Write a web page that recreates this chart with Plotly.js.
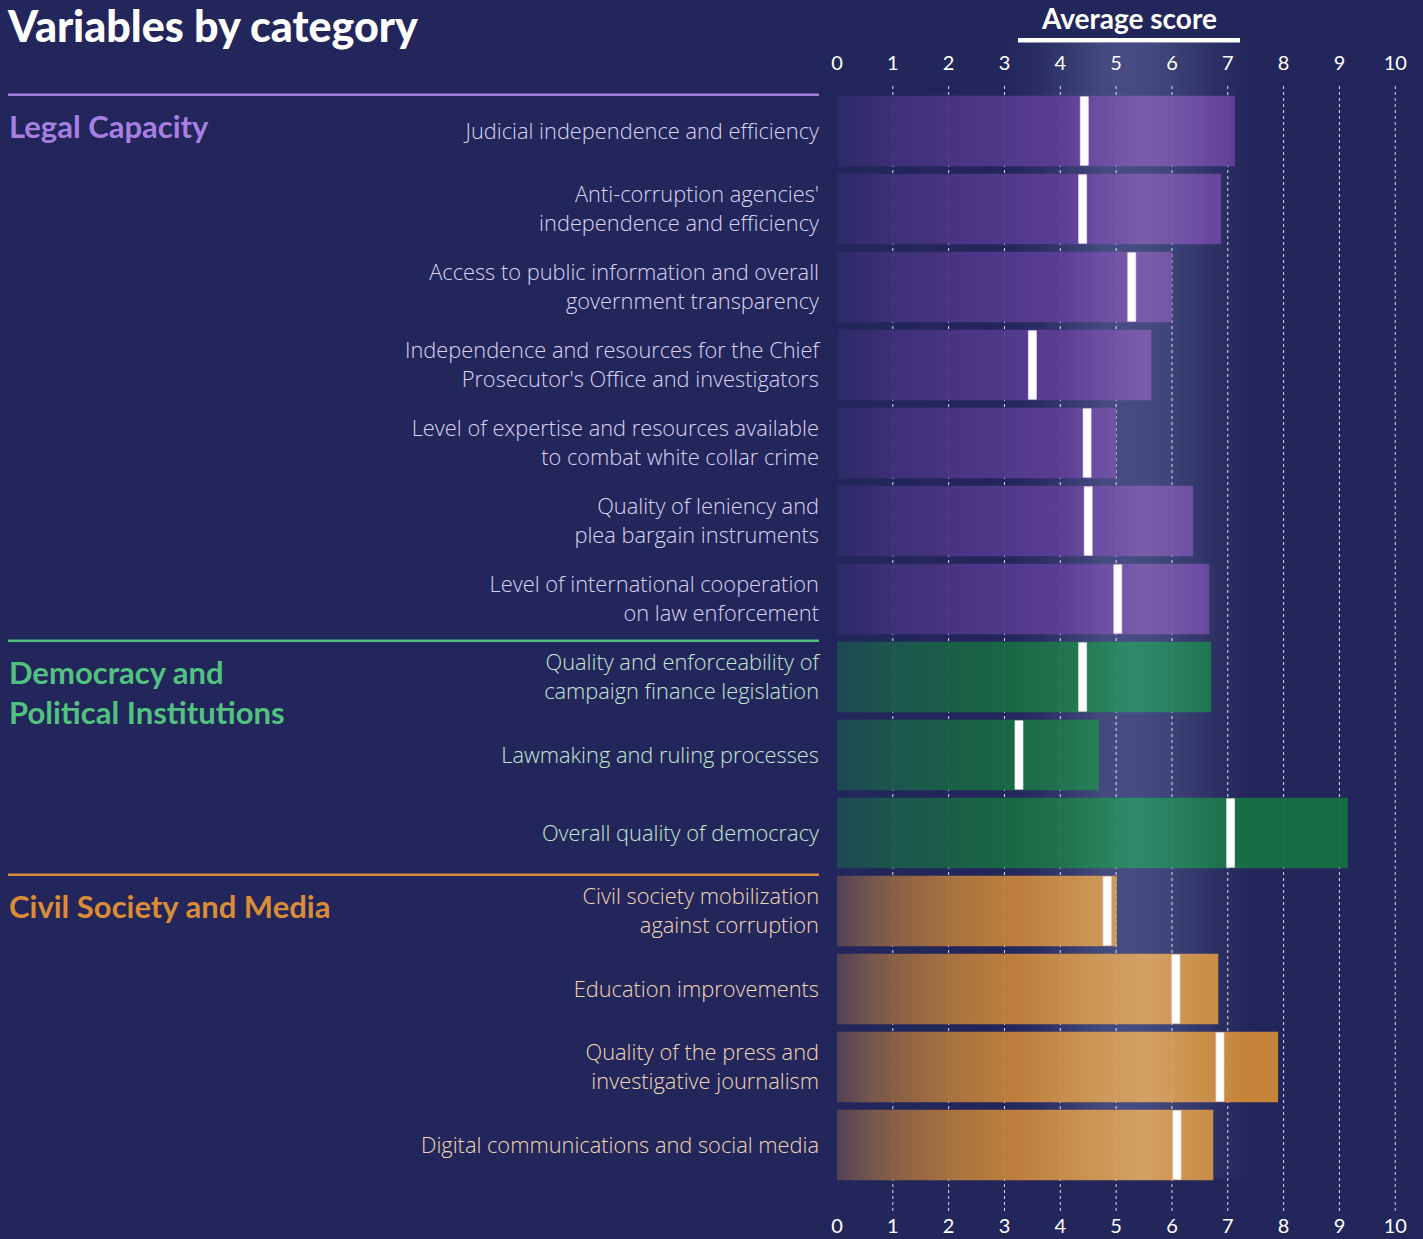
<!DOCTYPE html>
<html><head><meta charset="utf-8">
<script src="https://cdn.plot.ly/plotly-3.0.1.min.js"></script>
<style>html,body{margin:0;padding:0;background:#23265a;}#chart{width:1423px;height:1239px;}</style>
</head><body><div id="chart"></div>
<script>
// ---------------- data ----------------
const variableLines = [
  ["Judicial independence and efficiency"],
  ["Anti-corruption agencies'", "independence and efficiency"],
  ["Access to public information and overall", "government transparency"],
  ["Independence and resources for the Chief", "Prosecutor's Office and investigators"],
  ["Level of expertise and resources available", "to combat white collar crime"],
  ["Quality of leniency and", "plea bargain instruments"],
  ["Level of international cooperation", "on law enforcement"],
  ["Quality and enforceability of", "campaign finance legislation"],
  ["Lawmaking and ruling processes"],
  ["Overall quality of democracy"],
  ["Civil society mobilization", "against corruption"],
  ["Education improvements"],
  ["Quality of the press and", "investigative journalism"],
  ["Digital communications and social media"]
];
const variableGroup = [0,0,0,0,0,0,0, 1,1,1, 2,2,2,2];
const averageScore = [7.13, 6.88, 6.00, 5.63, 5.00, 6.38, 6.67, 6.70, 4.69, 9.15, 5.01, 6.83, 7.90, 6.74];
const markerScore  = [4.43, 4.40, 5.28, 3.50, 4.48, 4.50, 5.03, 4.40, 3.26, 7.05, 4.84, 6.07, 6.86, 6.09];
const groupTitles = ["Legal Capacity", "Democracy and<br>Political Institutions", "Civil Society and Media"];
const xTicks = [0,1,2,3,4,5,6,7,8,9,10];

// ---------------- styles ----------------
const BG = '#23265a';
const groupTitleColor = ['#a77fe2', '#52c280', '#da8c36'];
const groupLabelColor = ['#dcd3f2', '#c4e6d4', '#f2d6b6'];
const groupLineColor  = ['#a47ee0', '#4fbf7a', '#d98c37'];
const groupGradient = [
  [[0,'#2e2a68'],[1,'#40307a'],[2,'#4b3585'],[3,'#553a8e'],[4,'#5f3f97'],[4.6,'#6d4ca3'],[5.5,'#7e5fae'],[6.3,'#7453a8'],[7.2,'#643e9b'],[10,'#5e3a96']],
  [[0,'#1e4b56'],[1,'#1c5a4c'],[2,'#1a6346'],[3,'#186c43'],[4,'#1e7849'],[4.7,'#268555'],[5.3,'#2e8f6a'],[6.2,'#25845a'],[7.2,'#187344'],[10,'#157040']],
  [[0,'#564456'],[0.6,'#7c5b4c'],[1.2,'#9a6843'],[2.2,'#b77c3d'],[3.3,'#cc873a'],[4.3,'#d5984c'],[5.5,'#dfa961'],[6.4,'#d9994a'],[7.3,'#d48c37'],[10,'#d48b35']]
];
const HEAD_FONT = 'Lato, "Open Sans", sans-serif';
const LABEL_FONT = '"Open Sans", Lato, sans-serif';
const L = 837, R = 11, T = 85, B = 28, WIDTH = 1423, HEIGHT = 1239;
const X_MAX = 10.3;
const Y_TOP = -0.59, Y_BOT = 13.846;
const HALF = 0.453;          // half bar thickness (category units)
const MARK_HALF = 0.44;      // half marker height (category units)
const MARK_W = 0.143;        // marker thickness (score units)
const PW = WIDTH - L - R, PH = HEIGHT - T - B;
const pxToPaperX = px => (px - L) / PW;
const pxToPaperY = py => (HEIGHT - B - py) / PH;
const xToPaper = v => v / X_MAX;

function hexA(hex, a) {
  const n = parseInt(hex.slice(1), 16);
  return `rgba(${(n>>16)&255},${(n>>8)&255},${n&255},${a})`;
}

// ---------------- traces ----------------
const idx = averageScore.map((_, i) => i);
const traces = [];
[0,1,2].forEach(g => {
  const xs = [], ys = [];
  idx.filter(i => variableGroup[i] === g).forEach(i => {
    const v = averageScore[i];
    xs.push(0, v, v, 0, 0, null);
    ys.push(i - HALF, i - HALF, i + HALF, i + HALF, i - HALF, null);
  });
  traces.push({
    type: 'scatter', mode: 'lines', x: xs, y: ys, fill: 'toself',
    line: {width: 0, color: 'rgba(0,0,0,0)'},
    fillcolor: hexA(groupGradient[g][5][1], 0.92),
    fillgradient: {type: 'horizontal', start: 0, stop: 10,
      colorscale: groupGradient[g].map(([xv, c]) => [xv / 10, hexA(c, 0.92)])},
    hoverinfo: 'skip', showlegend: false
  });
});
// white markers (drawn on top)
{
  const xs = [], ys = [];
  idx.forEach(i => {
    const m = markerScore[i], a = m - MARK_W / 2, b = m + MARK_W / 2;
    xs.push(a, b, b, a, a, null);
    ys.push(i - MARK_HALF, i - MARK_HALF, i + MARK_HALF, i + MARK_HALF, i - MARK_HALF, null);
  });
  traces.push({type: 'scatter', mode: 'lines', x: xs, y: ys, fill: 'toself',
    fillcolor: '#ffffff', line: {width: 0.8, color: 'rgba(235,225,245,0.9)'},
    hoverinfo: 'skip', showlegend: false});
}
traces.push({type: 'scatter', mode: 'markers', x: [0], y: [0], xaxis: 'x2',
  marker: {opacity: 0}, hoverinfo: 'skip', showlegend: false});

// ---------------- labels ----------------
const tickText = variableLines.map((lines, i) =>
  lines.map(t => `<span style="color:${groupLabelColor[variableGroup[i]]}">${t}</span>`).join('<br>'));

// ---------------- shapes / annotations ----------------
const shapes = [];
xTicks.filter(t => t > 0).forEach(t => shapes.push({
  type: 'line', xref: 'x', yref: 'paper', x0: t, x1: t, y0: 0, y1: 1, layer: 'below',
  line: {color: 'rgba(255,255,255,0.85)', width: 1, dash: '3px,3px'}
}));
const groupFirst = [0,1,2].map(g => variableGroup.indexOf(g));
groupFirst.forEach((f, g) => shapes.push({
  type: 'line', xref: 'paper', yref: 'y', x0: pxToPaperX(8), x1: pxToPaperX(819),
  y0: f - 0.465, y1: f - 0.465, line: {color: groupLineColor[g], width: 2.5}
}));
shapes.push({type: 'rect', xref: 'paper', yref: 'paper',
  x0: pxToPaperX(1018), x1: pxToPaperX(1240), y0: pxToPaperY(42.5), y1: pxToPaperY(38),
  fillcolor: '#ffffff', line: {width: 0}});

const annotations = [];
groupTitles.forEach((t, g) => {
  const nLines = t.split('<br>').length;
  annotations.push({
    text: t, xref: 'paper', yref: 'y', x: pxToPaperX(7), y: groupFirst[g],
    xanchor: 'left', yanchor: 'middle', align: 'left', yshift: nLines > 1 ? -15 : 5, showarrow: false,
    font: {family: HEAD_FONT, size: 31, weight: 700, color: groupTitleColor[g]}
  });
});
annotations.push({text: 'Average score', xref: 'paper', yref: 'paper',
  x: pxToPaperX(1129), y: pxToPaperY(18), xanchor: 'center', yanchor: 'middle', showarrow: false,
  font: {family: HEAD_FONT, size: 28, weight: 700, color: '#ffffff'}});

const bandStops = [[3.0,0],[3.6,0.2],[4.2,0.55],[4.8,0.92],[5.2,1],[5.6,0.92],[6.2,0.6],[6.8,0.25],[7.4,0]];
const b0 = bandStops[0][0], b1 = bandStops[bandStops.length-1][0];
const bandSvg = `<svg xmlns='http://www.w3.org/2000/svg' width='100' height='100' viewBox='0 0 100 100' preserveAspectRatio='none'><defs><linearGradient id='g' x1='0' x2='1' y1='0' y2='0'>` +
  bandStops.map(([x, o]) => `<stop offset='${(x - b0) / (b1 - b0)}' stop-color='#474d82' stop-opacity='${o}'/>`).join('') +
  `</linearGradient></defs><rect width='100' height='100' fill='url(#g)'/></svg>`;

const axisFont = {family: HEAD_FONT, size: 20, color: '#ffffff'};
const layout = {
  width: WIDTH, height: HEIGHT,
  paper_bgcolor: BG, plot_bgcolor: 'rgba(0,0,0,0)',
  margin: {l: L, r: R, t: T, b: B, pad: 0},
  showlegend: false,
  title: {text: 'Variables by category', xref: 'container', yref: 'container',
    x: 8 / WIDTH, xanchor: 'left', y: 1 - 27 / HEIGHT, yanchor: 'middle',
    font: {family: HEAD_FONT, size: 43, weight: 900, color: '#ffffff'}},
  xaxis: {range: [0, X_MAX], tickvals: xTicks, ticktext: xTicks.map(String), showgrid: false,
    zeroline: false, showline: false, ticks: '', tickfont: axisFont, ticklabelstandoff: 1, fixedrange: true},
  xaxis2: {range: [0, X_MAX], overlaying: 'x', side: 'top', tickvals: xTicks, ticktext: xTicks.map(String),
    showgrid: false, zeroline: false, showline: false, ticks: '', tickfont: axisFont, ticklabelstandoff: 10, fixedrange: true},
  yaxis: {range: [Y_BOT, Y_TOP], tickvals: idx, ticktext: tickText, showgrid: false, zeroline: false,
    showline: false, ticks: '', ticklabelstandoff: 17, fixedrange: true,
    tickfont: {family: LABEL_FONT, size: 21.8, weight: 300, color: '#dcd3f2'}},
  shapes: shapes, annotations: annotations,
  images: [{source: 'data:image/svg+xml;charset=utf-8,' + encodeURIComponent(bandSvg),
    xref: 'paper', yref: 'paper', x: xToPaper(b0), y: pxToPaperY(43),
    sizex: xToPaper(b1) - xToPaper(b0), sizey: pxToPaperY(43) - pxToPaperY(1178),
    xanchor: 'left', yanchor: 'top', sizing: 'stretch', layer: 'below'}]
};
Plotly.newPlot('chart', traces, layout, {displayModeBar: false, staticPlot: true});
</script></body></html>
